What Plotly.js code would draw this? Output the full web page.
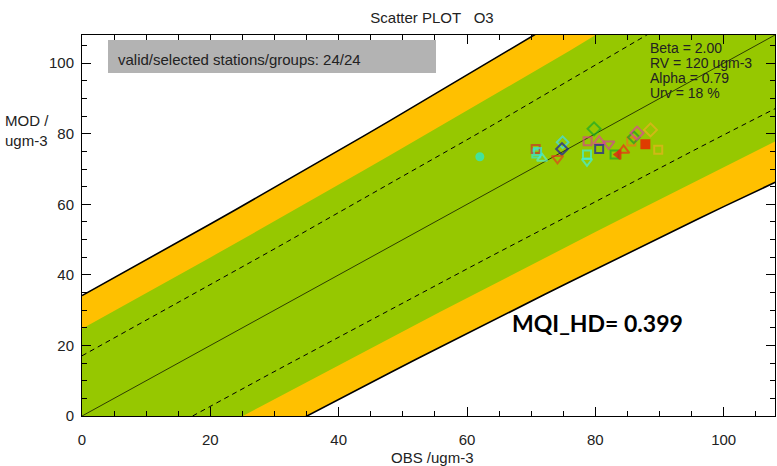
<!DOCTYPE html>
<html>
<head>
<meta charset="utf-8">
<script src="https://cdn.plot.ly/plotly-3.0.1.min.js"></script>
<style>html,body{margin:0;padding:0;background:#fff;}#chart{width:777px;height:466px;}</style>
</head>
<body>
<div id="chart"></div>
<script>
// ---- chart parameters (as printed on the chart) ----
const BETA = 2.0;
const RV = 120;
const ALPHA = 0.79;
const URV = 0.18;
const GREEN_K = 1.45;   // inner (green) band half-width in units of U

// ---- station points (OBS, MOD) ----
const obsX = [62.0, 70.8, 70.7, 71.7, 74.9, 74.8, 74.1, 78.8, 78.7, 78.7, 79.8, 80.6, 82.1, 80.6, 83.0, 83.6, 84.4, 85.6, 86.0, 86.5, 87.8, 88.6, 89.8, 71.0];
const modY = [73.5, 74.4, 75.7, 73.0, 77.6, 75.7, 73.0, 77.9, 74.1, 72.2, 81.4, 77.9, 77.1, 75.7, 74.1, 74.1, 75.3, 77.8, 79.0, 80.2, 77.0, 81.1, 75.5, 75.0];
const symbols = ['circle','square-open','square-open','triangle-up-open','diamond-open','diamond-open','triangle-down-open','square-open','square-open','triangle-down-open','diamond-open','triangle-up-open','triangle-down-open','square-open','square-open','triangle-left','triangle-up-open','square-open','diamond-open','diamond-open','square','diamond-open','square-open','square-open'];
const colors = ['#22eedd','#33e6dd','#c8322a','#55f0d0','#40dcf0','#1818a0','#e0401c','#d8408a','#40f0e0','#40f0e0','#18a828','#e04890','#d0409c','#1818a0','#18a828','#ee1010','#f02818','#f07018','#209a28','#e040a0','#ff0000','#e8b020','#e8b020','#33e6dd'];
const sizes = [7,8,8,9,9,9,10,8,8,9,10,10,10,8,8,8,10,8,9,10,8,10,8,7];

// axis ticks
const tickVals = [0, 20, 40, 60, 80, 100];
const tickText = ['0', '20', '40', '60', '80', '100'];

// ---- uncertainty curves ----
function U(o){ return URV * Math.sqrt((1 - ALPHA*ALPHA) * o*o + ALPHA*ALPHA * RV*RV); }
const grid = [];
for (let o = 0; o <= 160; o += 4) grid.push(o);
const rev = grid.slice().reverse();
function band(k){
  return {x: grid.concat(rev), y: grid.map(o => o + k*U(o)).concat(rev.map(o => o - k*U(o)))};
}
const outer = band(BETA), inner = band(GREEN_K);

const traces = [
  {x: outer.x, y: outer.y, mode: 'lines', fill: 'toself', fillcolor: '#ffc000', line: {width: 0}, hoverinfo: 'skip'},
  {x: inner.x, y: inner.y, mode: 'lines', fill: 'toself', fillcolor: '#96c800', line: {width: 0}, hoverinfo: 'skip'},
  {x: grid, y: grid.map(o => o + BETA*U(o)), mode: 'lines', line: {color: '#000', width: 1.6}},
  {x: grid, y: grid.map(o => o - BETA*U(o)), mode: 'lines', line: {color: '#000', width: 1.6}},
  {x: grid, y: grid.map(o => o + U(o)), mode: 'lines', line: {color: '#000', width: 1, dash: '5px,4px'}},
  {x: grid, y: grid.map(o => o - U(o)), mode: 'lines', line: {color: '#000', width: 1, dash: '5px,4px'}},
  {x: [0, 160], y: [0, 160], mode: 'lines', line: {color: '#000', width: 0.7}},
  {x: obsX, y: modY, mode: 'markers', cliponaxis: false,
   marker: {symbol: symbols, color: colors, size: sizes, line: {color: colors, width: 2}}}
];

const F = 'Liberation Sans, Arial, sans-serif';
function ax(){
  return {
    range: [0, 108], tickmode: 'array', tickvals: tickVals, ticktext: tickText,
    ticks: 'inside', ticklen: 9, tickwidth: 1, tickcolor: '#000',
    minor: {dtick: 5, tick0: 0, ticks: 'inside', ticklen: 5, tickwidth: 1, tickcolor: '#000'},
    showline: true, linecolor: '#000', linewidth: 1, mirror: 'ticks',
    showgrid: false, zeroline: false, fixedrange: true,
    tickfont: {family: F, size: 15, color: '#222'}
  };
}
const xa = ax(); xa.ticklabelstandoff = 10;
const ya = ax(); ya.ticklabelstandoff = 4;

const P = (px) => (px - 82) / 693;
const Q = (py) => (416 - py) / 381;
const ann = (text, x, y, opts) => Object.assign({text: text, xref: 'paper', yref: 'paper', x: x, y: y,
  xanchor: 'left', yanchor: 'middle', showarrow: false, align: 'left', borderpad: 0,
  font: {family: F, size: 15, color: '#222'}}, opts || {});
const statFont = {font: {family: F, size: 14, color: '#222'}};

const layout = {
  width: 777, height: 466,
  margin: {l: 82, r: 2, t: 35, b: 50},
  paper_bgcolor: '#fff', plot_bgcolor: '#fff',
  showlegend: false,
  title: {text: 'Scatter PLOT\u00a0\u00a0\u00a0O3', x: P(432), xref: 'paper', xanchor: 'center',
          y: 1 - 18/466, yanchor: 'middle', font: {family: F, size: 15, color: '#222'}},
  xaxis: xa, yaxis: ya,
  shapes: [{type: 'rect', xref: 'paper', yref: 'paper', x0: P(108), x1: P(436), y0: Q(73), y1: Q(40),
            fillcolor: '#b3b3b3', line: {width: 0}, layer: 'above'}],
  annotations: [
    ann('valid/selected stations/groups: 24/24', P(117), Q(59)),
    ann('Beta = 2.00', P(649), Q(48), statFont),
    ann('RV = 120 ugm-3', P(649), Q(63), statFont),
    ann('Alpha = 0.79', P(649), Q(78), statFont),
    ann('Urv = 18 %', P(649), Q(93), statFont),
    ann('MQI_HD= 0.399', P(511), Q(323), {font: {family: 'Lato, Open Sans, sans-serif', size: 23, color: '#000', weight: 'bold'}}),
    ann('MOD /<br>ugm-3', P(4), Q(130)),
    ann('OBS /ugm-3', P(432), Q(457), {xanchor: 'center'})
  ]
};

Plotly.newPlot('chart', traces, layout, {staticPlot: true, displayModeBar: false});
</script>
</body>
</html>
